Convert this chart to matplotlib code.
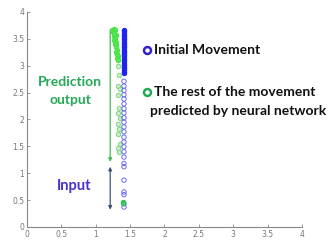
import matplotlib
matplotlib.use("Agg")
import matplotlib.pyplot as plt

# ---- data ----
blue_dense_y = [2.86, 2.89, 2.92, 2.95, 2.98, 3.01, 3.04, 3.07, 3.10, 3.13, 3.16,
                3.19, 3.22, 3.25, 3.28, 3.31, 3.34, 3.37, 3.40, 3.43, 3.46, 3.49,
                3.52, 3.55, 3.58, 3.61, 3.64, 3.67]
blue_open_y = [2.71, 2.62, 2.54, 2.46, 2.38, 2.29, 2.20, 2.12, 2.03, 1.95, 1.86,
               1.77, 1.67, 1.58, 1.49, 1.40, 1.30, 1.18, 1.12, 0.87, 0.65, 0.60,
               0.43, 0.37]
blue_x = 1.41

green_top_x = [1.24, 1.26, 1.28, 1.25, 1.27, 1.29, 1.26, 1.28, 1.27, 1.29, 1.28,
               1.30, 1.29, 1.31, 1.30, 1.31, 1.32, 1.31, 1.33]
green_top_y = [3.66, 3.68, 3.67, 3.62, 3.60, 3.58, 3.55, 3.52, 3.48, 3.45, 3.41,
               3.38, 3.34, 3.30, 3.26, 3.22, 3.18, 3.14, 3.11]
green_low_x = [1.33, 1.34, 1.33, 1.35, 1.33, 1.34, 1.33, 1.35, 1.33, 1.34, 1.33,
               1.35, 1.33, 1.34]
green_low_y = [3.00, 2.82, 2.63, 2.56, 2.45, 2.22, 2.12, 2.03, 1.92, 1.82, 1.72,
               1.55, 1.47, 1.40]
green_end_x = [1.40, 1.39]
green_end_y = [0.46, 0.44]

pred_arrow = (1.21, 3.66, 1.21, 1.21)   # x, y_top, x, y_bottom
input_arrow = (1.21, 1.12, 1.21, 0.32)

xticks = [0, 0.5, 1, 1.5, 2, 2.5, 3, 3.5, 4]
yticks = [0, 0.5, 1, 1.5, 2, 2.5, 3, 3.5, 4]

fig = plt.figure(figsize=(3.34, 2.44), dpi=100)
ax = fig.add_axes([0.081, 0.07, 0.823, 0.881])

ax.scatter([blue_x] * len(blue_open_y), blue_open_y, s=10, facecolors='none',
           edgecolors='#6a6aee', linewidths=0.7, zorder=3)
ax.scatter([blue_x] * len(blue_dense_y), blue_dense_y, s=10, facecolors='#2222ee',
           edgecolors='#2222ee', linewidths=0.7, zorder=3)
ax.scatter(green_low_x, green_low_y, s=10, facecolors='#c8f0c8',
           edgecolors='#80d880', linewidths=0.7, zorder=2)
ax.scatter(green_top_x, green_top_y, s=10, facecolors='#55ee55',
           edgecolors='#44e044', linewidths=0.7, zorder=4)
ax.scatter(green_end_x, green_end_y, s=10, facecolors='#44cc66',
           edgecolors='#33bb55', linewidths=0.7, zorder=4)

ax.annotate('', xy=(pred_arrow[2], pred_arrow[3]), xytext=(pred_arrow[0], pred_arrow[1]),
            arrowprops=dict(arrowstyle='-|>', color='#44bb55', lw=0.9,
                            mutation_scale=5, shrinkA=0, shrinkB=0))
ax.annotate('', xy=(input_arrow[2], input_arrow[3]), xytext=(input_arrow[0], input_arrow[1]),
            arrowprops=dict(arrowstyle='<|-|>', color='#3a5577', lw=0.9,
                            mutation_scale=5, shrinkA=0, shrinkB=0))

ax.text(0.63, 2.70, 'Prediction', color='#22aa55', fontsize=10, fontweight='bold',
        family='Lato', ha='center', va='center')
ax.text(0.63, 2.36, 'output', color='#22aa55', fontsize=10, fontweight='bold',
        family='Lato', ha='center', va='center')
ax.text(0.68, 0.76, 'Input', color='#4433cc', fontsize=10.5, fontweight='bold',
        family='Lato', ha='center', va='center')

# legend-like annotations
ax.plot([1.74], [3.30], 'o', ms=5, mfc='none', mec='#3322cc', mew=1.8, clip_on=False)
ax.text(1.85, 3.30, 'Initial Movement', fontsize=10, fontweight='bold',
        family='Lato', ha='left', va='center', color='#111111')
ax.plot([1.74], [2.51], 'o', ms=5, mfc='none', mec='#22aa55', mew=1.8, clip_on=False)
ax.text(1.85, 2.51, 'The rest of the movement', fontsize=10, fontweight='bold',
        family='Lato', ha='left', va='center', color='#111111')
ax.text(1.79, 2.16, 'predicted by neural network', fontsize=10, fontweight='bold',
        family='Lato', ha='left', va='center', color='#111111')

ax.set_xlim(0, 4)
ax.set_ylim(0, 4)
ax.set_xticks(xticks)
ax.set_yticks(yticks)
ax.set_xticklabels([f'{t:g}' for t in xticks])
ax.set_yticklabels([f'{t:g}' for t in yticks])
for s in ['top', 'right']:
    ax.spines[s].set_visible(False)
for s in ['left', 'bottom']:
    ax.spines[s].set_color('#888888')
    ax.spines[s].set_linewidth(0.8)
ax.tick_params(direction='in', length=2.5, width=0.6, colors='#888888',
               labelsize=5.5, labelcolor='#777777', pad=2)

fig.savefig('out.png', dpi=100)
